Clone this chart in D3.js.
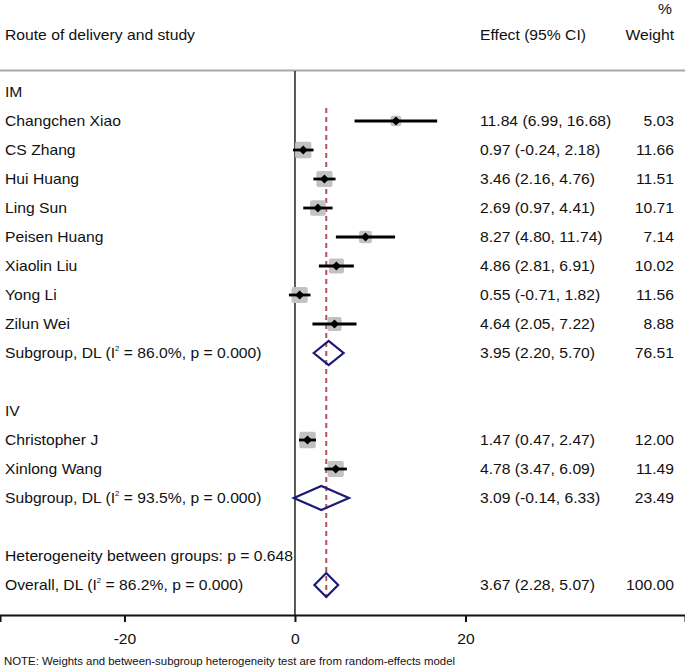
<!DOCTYPE html>
<html>
<head>
<meta charset="utf-8">
<script src="https://cdn.jsdelivr.net/npm/d3@7"></script>
<style>
  html, body { margin: 0; padding: 0; background: #fff; }
  svg { display: block; }
  text { font-family: "Liberation Sans", Arial, sans-serif; fill: #111; }
</style>
</head>
<body>
<svg id="chart" width="685" height="670"></svg>
<script>
// ---------------- data ----------------
const rowIds = ["IM","s1","s2","s3","s4","s5","s6","s7","s8","subIM","b1","IV","s9","s10","subIV","b2","het","overall"];
const studyNames = ["Changchen Xiao","CS Zhang","Hui Huang","Ling Sun","Peisen Huang","Xiaolin Liu","Yong Li","Zilun Wei","Christopher J","Xinlong Wang"];
const studyRows  = ["s1","s2","s3","s4","s5","s6","s7","s8","s9","s10"];
const studyEst   = [11.84, 0.97, 3.46, 2.69, 8.27, 4.86, 0.55, 4.64, 1.47, 4.78];
const studyLo    = [6.99, -0.24, 2.16, 0.97, 4.80, 2.81, -0.71, 2.05, 0.47, 3.47];
const studyHi    = [16.68, 2.18, 4.76, 4.41, 11.74, 6.91, 1.82, 7.22, 2.47, 6.09];
const studyWeight= [5.03, 11.66, 11.51, 10.71, 7.14, 10.02, 11.56, 8.88, 12.00, 11.49];

const pooledRows   = ["subIM","subIV","overall"];
const pooledLabels = [["Subgroup, DL (I","2"," = 86.0%, p = 0.000)"],["Subgroup, DL (I","2"," = 93.5%, p = 0.000)"],["Overall, DL (I","2"," = 86.2%, p = 0.000)"]];
const pooledEst    = [3.95, 3.09, 3.67];
const pooledLo     = [2.20, -0.14, 2.28];
const pooledHi     = [5.70, 6.33, 5.07];
const pooledWeight = [76.51, 23.49, 100.00];

const groupRows   = ["IM","IV"];
const groupLabels = ["IM","IV"];
const hetLabel = "Heterogeneity between groups: p = 0.648";
const xTicks = [-20, 0, 20];
const noteText = "NOTE: Weights and between-subgroup heterogeneity test are from random-effects model";

// ---------------- layout ----------------
const W = 685, H = 670;
const svg = d3.select("#chart");
const x = d3.scaleLinear().domain([-34.6, 45.75]).range([0, W]);
const y = d3.scalePoint().domain(rowIds).range([92, 585]);
const sq = d3.scaleSqrt().domain([0, 12]).range([0, 16.5]);
const SX = 1.12, FS = 14;

function txt(g, px, py, str, anchor, fs) {
  return g.append("text")
    .attr("transform", `translate(${px},${py}) scale(${SX},1)`)
    .attr("text-anchor", anchor || "start")
    .attr("font-size", fs || FS)
    .text(str);
}
const fmt0 = d3.format(".2f");
const fmt = v => fmt0(v).replace("\u2212", "-");
const ci = (e,l,h) => `${fmt(e)} (${fmt(l)}, ${fmt(h)})`;

// headers
const hdr = svg.append("g");
txt(hdr, 5, 40, "Route of delivery and study");
txt(hdr, 480, 40, "Effect (95% CI)");
txt(hdr, 674, 40, "Weight", "end");
txt(hdr, 672, 14, "%", "end");

// top rule
svg.append("line").attr("x1", 0).attr("x2", W).attr("y1", 70.5).attr("y2", 70.5)
  .attr("stroke", "#a8a8a8").attr("stroke-width", 2);

// zero line
svg.append("line").attr("x1", x(0)).attr("x2", x(0)).attr("y1", 71).attr("y2", 615)
  .attr("stroke", "#222").attr("stroke-width", 1.5);

// overall dashed line
svg.append("line").attr("x1", x(pooledEst[2])).attr("x2", x(pooledEst[2]))
  .attr("y1", y("s1") - 13).attr("y2", y("overall") + 13)
  .attr("stroke", "#b4505c").attr("stroke-width", 2).attr("stroke-dasharray", "5,4");

// group labels
groupRows.forEach((r,i) => txt(svg, 5, y(r) + 5, groupLabels[i]));

// studies
const studies = studyNames.map((n,i) => ({name:n, row:studyRows[i], est:studyEst[i], lo:studyLo[i], hi:studyHi[i], w:studyWeight[i]}));
const sg = svg.append("g");
studies.forEach(d => {
  const cy = y(d.row);
  const s = sq(d.w);
  sg.append("rect").attr("x", x(d.est) - s/2).attr("y", cy - s/2).attr("width", s).attr("height", s)
    .attr("fill", "#c2c2c2").attr("rx", 2);
  sg.append("line").attr("x1", x(d.lo)).attr("x2", x(d.hi)).attr("y1", cy).attr("y2", cy)
    .attr("stroke", "#000").attr("stroke-width", 2.8);
  const r = 4.5;
  sg.append("path").attr("d", `M${x(d.est)-r},${cy}L${x(d.est)},${cy-r}L${x(d.est)+r},${cy}L${x(d.est)},${cy+r}Z`)
    .attr("fill", "#000");
  txt(svg, 5, cy + 5, d.name);
  txt(svg, 480, cy + 5, ci(d.est, d.lo, d.hi));
  txt(svg, 674, cy + 5, fmt(d.w), "end");
});

// pooled
pooledRows.forEach((r,i) => {
  const cy = y(r);
  const hh = 12;
  svg.append("path")
    .attr("d", `M${x(pooledLo[i])},${cy}L${x(pooledEst[i])},${cy-hh}L${x(pooledHi[i])},${cy}L${x(pooledEst[i])},${cy+hh}Z`)
    .attr("fill", "none").attr("stroke", "#1a1a78").attr("stroke-width", 2.2).attr("stroke-linejoin", "miter");
  const t = svg.append("text")
    .attr("transform", `translate(5,${cy + 5}) scale(${SX},1)`)
    .attr("font-size", FS);
  t.append("tspan").text(pooledLabels[i][0]);
  t.append("tspan").attr("font-size", 7).attr("dy", -7).text(pooledLabels[i][1]);
  t.append("tspan").attr("dy", 7).text(pooledLabels[i][2]);
  txt(svg, 480, cy + 5, ci(pooledEst[i], pooledLo[i], pooledHi[i]));
  txt(svg, 674, cy + 5, fmt(pooledWeight[i]), "end");
});

// heterogeneity
txt(svg, 5, y("het") + 5, hetLabel);

// axis
const axis = d3.axisBottom(x).tickValues(xTicks).tickFormat(d => String(d)).tickSizeOuter(0).tickSize(7).tickPadding(12);
const ag = svg.append("g").attr("transform", "translate(0,615)").call(axis);
ag.select(".domain").attr("stroke", "#111").attr("stroke-width", 2);
ag.selectAll(".tick line").attr("stroke", "#111").attr("stroke-width", 2);
ag.selectAll(".tick text").attr("font-size", FS).attr("fill", "#111")
  .attr("font-family", "Liberation Sans, Arial, sans-serif")
  .attr("transform", `scale(${SX},1)`);

// note
svg.append("text").attr("x", 4).attr("y", 665).attr("font-size", 10.5)
  .attr("textLength", 451).attr("lengthAdjust", "spacingAndGlyphs").text(noteText);
</script>
</body>
</html>
